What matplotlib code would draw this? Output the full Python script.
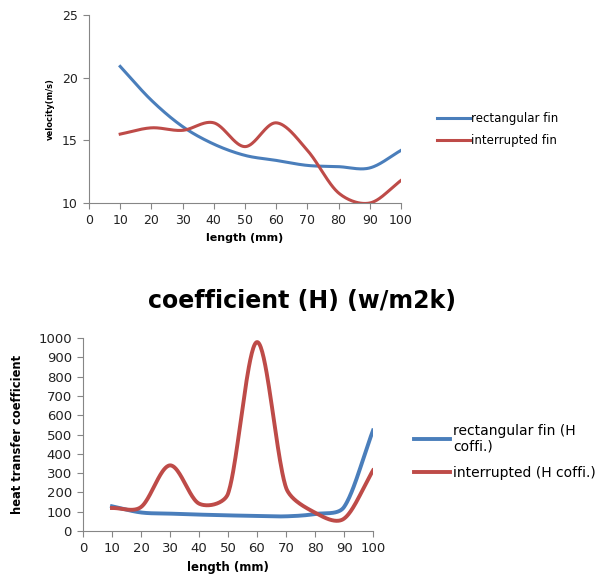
import numpy as np
import matplotlib
matplotlib.use("Agg")
import matplotlib.pyplot as plt

plt.rcParams.update({"font.family": "DejaVu Sans"})

BLUE = "#4A7EBB"
RED = "#BE4B48"
GRAY = "#868686"

# ── Data ────────────────────────────────────────────────────────────────
length = [10, 20, 30, 40, 50, 60, 70, 80, 90, 100]

vel_rect = [20.9, 18.2, 16.1, 14.7, 13.8, 13.4, 13.0, 12.9, 12.8, 14.2]
vel_intr = [15.5, 16.0, 15.8, 16.4, 14.5, 16.4, 14.2, 10.8, 10.0, 11.8]

h_rect = [128, 96, 90, 85, 81, 78, 76, 88, 124, 521]
h_intr = [119, 124, 340, 142, 193, 979, 225, 95, 64, 314]


def smooth(ax, x, y, n=40):
    # Catmull-Rom style Bezier in screen units, with tangents capped by the
    # segment length so short segments next to steep ones don't overshoot
    fig.canvas.draw()
    pts = ax.transData.transform(np.column_stack([x, y]))
    m = len(pts)
    tang = np.zeros_like(pts)
    for i in range(m):
        a = pts[max(i-1, 0)]; b = pts[min(i+1, m-1)]
        tang[i] = (b - a) / (2 if 0 < i < m-1 else 1)
    t = np.linspace(0, 1, n)[:, None]
    out = [pts[:1]]
    for i in range(m-1):
        p0, p3 = pts[i], pts[i+1]
        L = np.hypot(*(p3 - p0))
        k0 = min(1.0, L / np.hypot(*tang[i]))
        k1 = min(1.0, L / np.hypot(*tang[i+1]))
        p1 = p0 + tang[i] * k0 / 3
        p2 = p3 - tang[i+1] * k1 / 3
        seg = ((1-t)**3)*p0 + 3*((1-t)**2)*t*p1 + 3*(1-t)*t**2*p2 + t**3*p3
        out.append(seg[1:])
    res = ax.transData.inverted().transform(np.vstack(out))
    return res[:, 0], res[:, 1]


def style(ax, fs):
    for s in ("top", "right"):
        ax.spines[s].set_visible(False)
    for s in ("left", "bottom"):
        ax.spines[s].set_color(GRAY)
    ax.tick_params(colors=GRAY, labelcolor="#222222", labelsize=fs,
                   direction="out", length=4, pad=4)


fig = plt.figure(figsize=(6.03, 5.80), dpi=100)

# ── Top: velocity ───────────────────────────────────────────────────────
ax1 = fig.add_axes([0.1476, 0.650, 0.5174, 0.324])
ax1.set_xlim(0, 100); ax1.set_ylim(10, 25)
ax1.plot(*smooth(ax1, length, vel_rect), color=BLUE, lw=2.2, label="rectangular fin")
ax1.plot(*smooth(ax1, length, vel_intr), color=RED, lw=2.2, label="interrupted fin")
ax1.set_xlim(0, 100); ax1.set_ylim(10, 25)
ax1.set_xticks(range(0, 101, 10)); ax1.set_yticks([10, 15, 20, 25])
style(ax1, 9)
ax1.set_xlabel("length (mm)", fontsize=8, fontweight="bold", labelpad=4)
ax1.set_ylabel("velocity(m/s)", fontsize=6, fontweight="bold", labelpad=5)
ax1.legend(loc="center left", bbox_to_anchor=(1.08, 0.39), frameon=False,
           fontsize=8.5, handlelength=2.8, handletextpad=0.1, labelspacing=0.8)

# ── Bottom: heat transfer coefficient ───────────────────────────────────
ax2 = fig.add_axes([0.1376, 0.0845, 0.481, 0.3327])
ax2.set_xlim(0, 100); ax2.set_ylim(0, 1000)
ax2.plot(*smooth(ax2, length, h_rect), color=BLUE, lw=2.8,
         label="rectangular fin (H\ncoffi.)")
ax2.plot(*smooth(ax2, length, h_intr), color=RED, lw=2.8,
         label="interrupted (H coffi.)")
ax2.set_xlim(0, 100); ax2.set_ylim(0, 1000)
ax2.set_xticks(range(0, 101, 10)); ax2.set_yticks(range(0, 1001, 100))
style(ax2, 9.5)
ax2.set_xlabel("length (mm)", fontsize=8.5, fontweight="bold", labelpad=4)
ax2.set_ylabel("heat transfer coefficient", fontsize=8.3, fontweight="bold",
               labelpad=10)
ax2.legend(loc="center left", bbox_to_anchor=(1.098, 0.41), frameon=False,
           fontsize=10, handlelength=2.6, handletextpad=0.2, labelspacing=0.9)

fig.text(0.50, 0.481, "coefficient (H) (w/m2k)", ha="center", va="center",
         fontsize=17, fontweight="bold")

fig.savefig("out.png", dpi=100)
